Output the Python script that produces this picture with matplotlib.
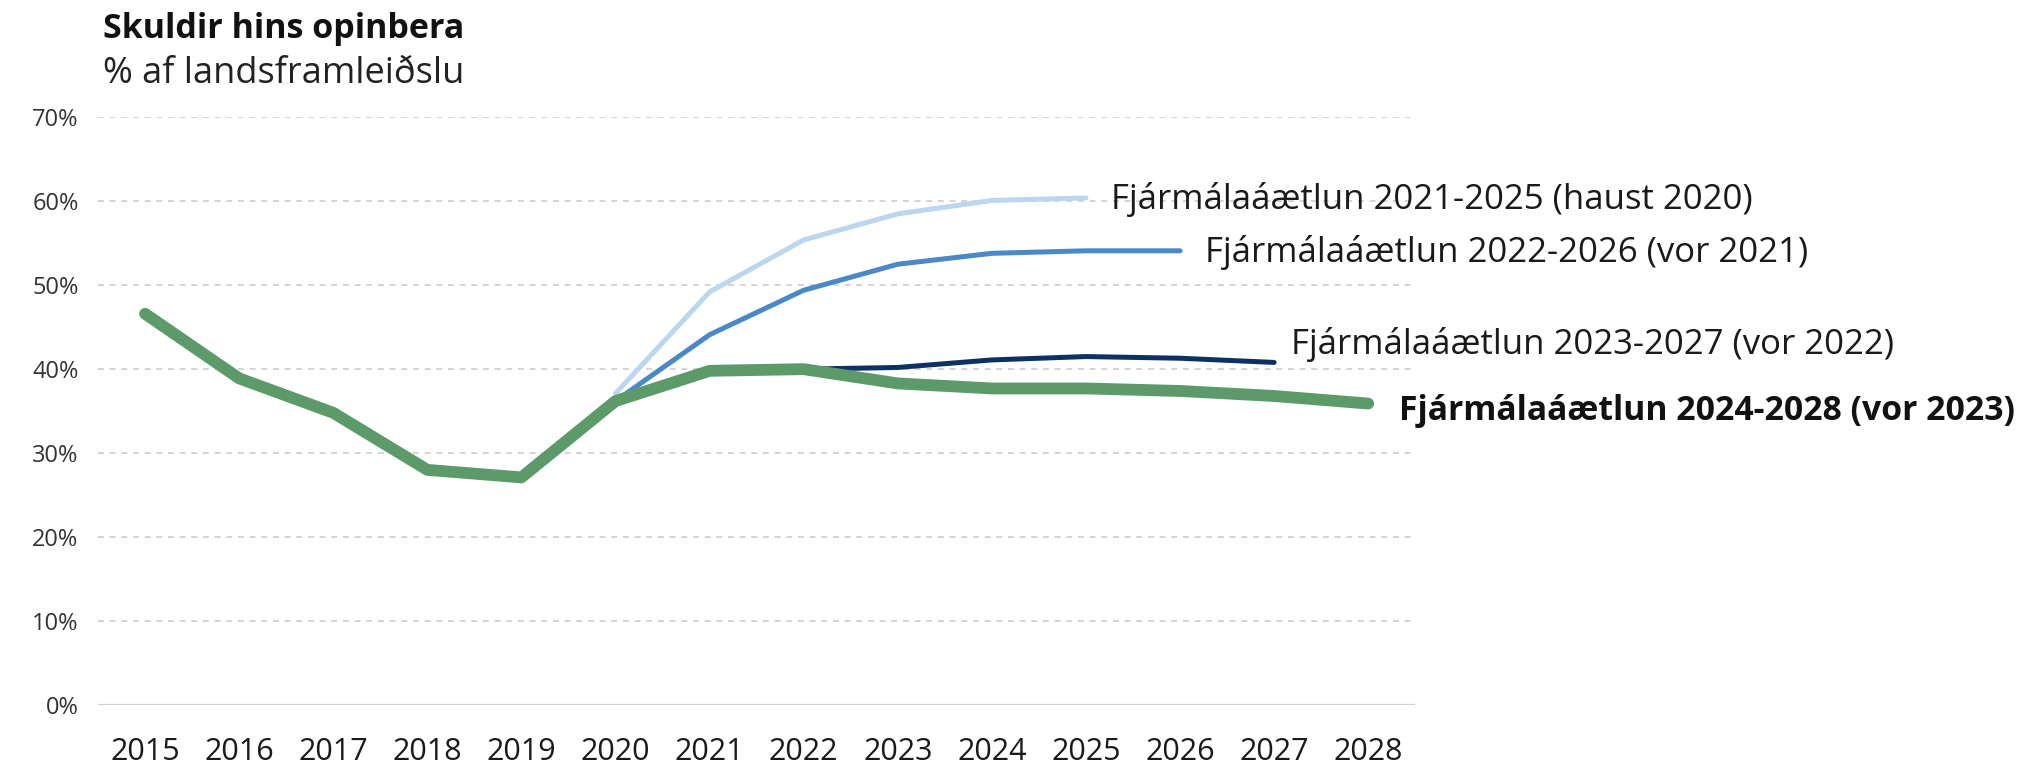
import matplotlib
matplotlib.use("Agg")
import matplotlib.pyplot as plt
from matplotlib.ticker import FuncFormatter

# data (% of GDP)
years = list(range(2015, 2029))

fa_2024 = [46.6, 38.9, 34.8, 28.0, 27.1, 36.2, 39.8, 40.0, 38.3, 37.7, 37.7, 37.4, 36.8, 35.9]
years_2023 = list(range(2021, 2028))
fa_2023 = [39.8, 40.0, 40.2, 41.1, 41.5, 41.3, 40.8]
years_2022 = list(range(2020, 2027))
fa_2022 = [36.2, 44.1, 49.4, 52.5, 53.8, 54.1, 54.1]
years_2021 = list(range(2020, 2026))
fa_2021 = [37.1, 49.2, 55.4, 58.5, 60.1, 60.4]

label_2021 = "Fjármálaáætlun 2021-2025 (haust 2020)"
label_2022 = "Fjármálaáætlun 2022-2026 (vor 2021)"
label_2023 = "Fjármálaáætlun 2023-2027 (vor 2022)"
label_2024 = "Fjármálaáætlun 2024-2028 (vor 2023)"

title = "Skuldir hins opinbera"
subtitle = "% af landsframleiðslu"

plt.rcParams['font.family'] = ['Open Sans', 'DejaVu Sans']

fig = plt.figure(figsize=(20.25, 7.67), dpi=100)
ax = fig.add_axes([0.0484, 0.081, 0.6505, 0.766])

c_light = "#bcd6ef"
c_mid = "#4a88c7"
c_navy = "#0d3163"
c_green = "#5c9a6a"

ax.plot(years_2021, fa_2021, color=c_light, lw=3.6, solid_capstyle="round", zorder=3)
ax.plot(years_2022, fa_2022, color=c_mid, lw=3.6, solid_capstyle="round", zorder=4)
ax.plot(years_2023, fa_2023, color=c_navy, lw=3.6, solid_capstyle="round", zorder=5)
ax.plot(years, fa_2024, color=c_green, lw=8.5, solid_capstyle="round", zorder=6)

# end labels
fs = 25
ax.annotate(label_2021, (years_2021[-1], fa_2021[-1]), xytext=(18, -1), textcoords="offset points",
            va="center", ha="left", fontsize=fs, color="#1a1a1a", annotation_clip=False)
ax.annotate(label_2022, (years_2022[-1], fa_2022[-1]), xytext=(18, -1), textcoords="offset points",
            va="center", ha="left", fontsize=fs, color="#1a1a1a", annotation_clip=False)
ax.annotate(label_2023, (years_2023[-1], fa_2023[-1]), xytext=(12, 13), textcoords="offset points",
            va="center", ha="left", fontsize=fs, color="#1a1a1a", annotation_clip=False)
ax.annotate(label_2024, (years[-1], fa_2024[-1]), xytext=(22, -5), textcoords="offset points",
            va="center", ha="left", fontsize=24.3, fontweight="bold", color="#111111",
            annotation_clip=False)

ax.set_xlim(2014.5, 2028.5)
ax.set_ylim(0, 70)
ax.set_xticks(years)
ax.set_yticks(range(0, 71, 10))
ax.yaxis.set_major_formatter(FuncFormatter(lambda v, p: f"{v:.0f}%"))
ax.tick_params(axis="x", length=0, pad=23, labelsize=22, labelcolor="#1a1a1a")
ax.tick_params(axis="y", length=0, pad=14, labelsize=17, labelcolor="#333333")

for v in range(10, 71, 10):
    ax.axhline(v, color="#d4d4d4", lw=1.4, ls=(0, (3, 3)), zorder=1)
ax.axhline(0, color="#d0d0d0", lw=1.6, zorder=1)

for s in ax.spines.values():
    s.set_visible(False)

fig.text(0.051, 0.962, title, fontsize=24.5, fontweight="bold", color="#111111", va="center")
fig.text(0.051, 0.904, subtitle, fontsize=26, color="#222222", va="center")

fig.savefig("out.png", dpi=100)
